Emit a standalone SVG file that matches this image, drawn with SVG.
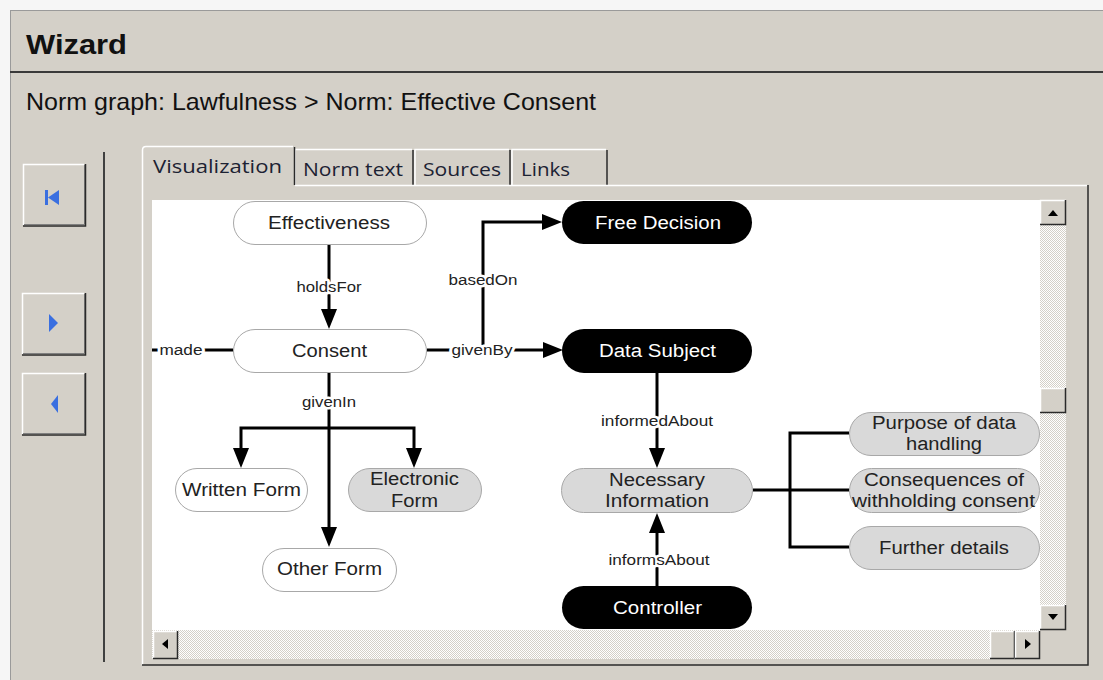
<svg xmlns="http://www.w3.org/2000/svg" width="1103" height="680" viewBox="0 0 1103 680">
  <defs>
    <style>
      .ui { font-family: "Liberation Sans", Arial, sans-serif; fill: #111; }
      .tab { font-family: "Open Sans", "DejaVu Sans", sans-serif; font-size: 19px; fill: #1c2233; }
      .hl { fill: none; stroke: #ffffff; stroke-width: 1.5; }
      .sh { fill: none; stroke: #2a2a2a; stroke-width: 1.5; }
      .sh2 { fill: none; stroke: #808080; stroke-width: 1; }
      .face { fill: #d4d0c8; }
      .pill-w { fill: #ffffff; stroke: #a8a8a8; stroke-width: 1; }
      .pill-g { fill: #d9d9d9; stroke: #a8a8a8; stroke-width: 1; }
      .pill-b { fill: #000000; }
      .node text { font-family: "Liberation Sans", Arial, sans-serif; font-size: 18px; text-anchor: middle; fill: #222; }
      .node.dark text { fill: #ffffff; }
      .edge { fill: none; stroke: #000; stroke-width: 3; }
      .elabel { font-family: "Liberation Sans", Arial, sans-serif; font-size: 14px; text-anchor: middle; fill: #222;
                stroke: #ffffff; stroke-width: 5; stroke-linejoin: round; paint-order: stroke; }
      .icon { fill: #3a6fe0; }
    </style>
    <pattern id="dither" width="2" height="2" patternUnits="userSpaceOnUse">
      <rect width="2" height="2" fill="#ffffff"/>
      <rect width="1" height="1" fill="#d4d0c8"/>
      <rect x="1" y="1" width="1" height="1" fill="#d4d0c8"/>
    </pattern>
    <marker id="arrow" viewBox="0 0 20 16" refX="0" refY="8" markerWidth="20" markerHeight="16"
            markerUnits="userSpaceOnUse" orient="auto">
      <path d="M0,0 L20,8 L0,16 Z" fill="#000"/>
    </marker>
  </defs>

  <!-- window frame -->
  <rect x="0" y="0" width="1103" height="680" fill="#f6f6f6"/>
  <rect x="10.5" y="10.5" width="1100" height="680" fill="#d4d0c8" stroke="#9a9a9a" stroke-width="1"/>
  <line x1="10" y1="72" x2="1103" y2="72" stroke="#3a3a3a" stroke-width="2"/>
  <text class="ui" x="26" y="54" font-size="28" font-weight="bold" textLength="101" lengthAdjust="spacingAndGlyphs">Wizard</text>
  <text class="ui" x="26" y="110" font-size="24" fill="#1a1a1a" textLength="570" lengthAdjust="spacingAndGlyphs">Norm graph: Lawfulness &gt; Norm: Effective Consent</text>

  <!-- navigation buttons -->
  <g id="btn-first">
    <rect class="face" x="23" y="164" width="62" height="62"/>
    <path class="hl" d="M23.5,225 V164.5 H84"/>
    <path class="sh2" d="M24,224.5 H84.5 V165"/>
    <path class="sh" d="M23,226 H85.5 V164"/>
    <rect class="icon" x="45" y="190" width="3" height="15"/>
    <path class="icon" d="M48,197.5 L59,190 L59,205 Z"/>
  </g>
  <g id="btn-next">
    <rect class="face" x="22" y="293" width="63" height="62"/>
    <path class="hl" d="M22.5,354 V293.5 H84"/>
    <path class="sh2" d="M23,353.5 H84.5 V294"/>
    <path class="sh" d="M22,355 H85.5 V293"/>
    <path class="icon" d="M58,323 L49,314 L49,332 Z"/>
  </g>
  <g id="btn-prev">
    <rect class="face" x="22" y="373" width="63" height="62"/>
    <path class="hl" d="M22.5,434 V373.5 H84"/>
    <path class="sh2" d="M23,433.5 H84.5 V374"/>
    <path class="sh" d="M22,435 H85.5 V373"/>
    <path class="icon" d="M51,404 L58,395 L58,413 Z"/>
  </g>
  <line x1="104" y1="152" x2="104" y2="662" stroke="#404040" stroke-width="2"/>

  <!-- tabs -->
  <g id="tab-norm-text">
    <path class="hl" d="M295,185 V149.5 H412"/>
    <path class="sh" d="M413,150 V185"/>
    <text class="tab" x="303" y="176" textLength="100" lengthAdjust="spacingAndGlyphs">Norm text</text>
  </g>
  <g id="tab-sources">
    <path class="hl" d="M415,185 V149.5 H509"/>
    <path class="sh" d="M510,150 V185"/>
    <text class="tab" x="423" y="176" textLength="78" lengthAdjust="spacingAndGlyphs">Sources</text>
  </g>
  <g id="tab-links">
    <path class="hl" d="M512,185 V149.5 H606"/>
    <path class="sh" d="M607,150 V185"/>
    <text class="tab" x="521" y="176" textLength="49" lengthAdjust="spacingAndGlyphs">Links</text>
  </g>

  <!-- tab panel -->
  <g id="panel">
    <path class="hl" d="M142.5,665 V150 Q142.5,146.5 146,146.5 H293"/>
    <path class="sh" d="M294.5,147 V185"/>
    <path class="hl" d="M295,185.5 H1087"/>
    <path class="sh" d="M1088,185 V665 H142"/>
    <text class="tab" x="153" y="173" textLength="129" lengthAdjust="spacingAndGlyphs">Visualization</text>
    <rect x="152" y="200" width="888" height="430" fill="#ffffff"/>
  </g>

  <!-- scrollbars -->
  <g id="scroll-v">
    <rect x="1040" y="200" width="26" height="430" fill="url(#dither)"/>
    <rect class="face" x="1040" y="200" width="26" height="25"/>
    <path class="hl" d="M1040.5,225 V200.5 H1066"/>
    <path class="sh" d="M1040,224.5 H1065.5 V200"/>
    <path d="M1048,216 H1058 L1053,210 Z" fill="#000"/>
    <rect class="face" x="1040" y="388" width="26" height="25"/>
    <path class="hl" d="M1040.5,413 V388.5 H1066"/>
    <path class="sh" d="M1040,412.5 H1065.5 V388"/>
    <rect class="face" x="1040" y="605" width="26" height="25"/>
    <path class="hl" d="M1040.5,630 V605.5 H1066"/>
    <path class="sh" d="M1040,629.5 H1065.5 V605"/>
    <path d="M1048,614 H1058 L1053,620 Z" fill="#000"/>
  </g>
  <g id="scroll-h">
    <rect x="152" y="630" width="888" height="29" fill="url(#dither)"/>
    <rect class="face" x="153" y="631" width="25" height="28"/>
    <path class="hl" d="M153.5,659 V631.5 H178"/>
    <path class="sh" d="M153,658.5 H177.5 V631"/>
    <path d="M168,639 V649 L162,644 Z" fill="#000"/>
    <rect class="face" x="990" y="631" width="25" height="28"/>
    <path class="hl" d="M990.5,659 V631.5 H1015"/>
    <path class="sh" d="M990,658.5 H1014.5 V631"/>
    <rect class="face" x="1015" y="631" width="25" height="28"/>
    <path class="hl" d="M1015.5,659 V631.5 H1040"/>
    <path class="sh" d="M1015,658.5 H1039.5 V631"/>
    <path d="M1025,639 V649 L1031,644 Z" fill="#000"/>
  </g>

  <!-- connectors -->
  <g id="connectors">
    <path class="edge" d="M329,245 V309" marker-end="url(#arrow)"/>
    <path class="edge" d="M152,350 H233"/>
    <path class="edge" d="M427,350 H543" marker-end="url(#arrow)"/>
    <path class="edge" d="M483,350 V222 H542" marker-end="url(#arrow)"/>
    <path class="edge" d="M329,373 V527" marker-end="url(#arrow)"/>
    <path class="edge" d="M329,428 H241 V448" marker-end="url(#arrow)"/>
    <path class="edge" d="M329,428 H414 V448" marker-end="url(#arrow)"/>
    <path class="edge" d="M657,373 V448" marker-end="url(#arrow)"/>
    <path class="edge" d="M657,586 V533" marker-end="url(#arrow)"/>
    <path class="edge" d="M753,490 H849"/>
    <path class="edge" d="M849,433 H790 V547 H849"/>

    <text class="elabel" x="329" y="292" textLength="65" lengthAdjust="spacingAndGlyphs">holdsFor</text>
    <text class="elabel" x="483" y="285" textLength="69" lengthAdjust="spacingAndGlyphs">basedOn</text>
    <text class="elabel" x="482" y="355" textLength="61" lengthAdjust="spacingAndGlyphs">givenBy</text>
    <text class="elabel" x="181" y="355" textLength="43" lengthAdjust="spacingAndGlyphs">made</text>
    <text class="elabel" x="329" y="407" textLength="54" lengthAdjust="spacingAndGlyphs">givenIn</text>
    <text class="elabel" x="657" y="426" textLength="112" lengthAdjust="spacingAndGlyphs">informedAbout</text>
    <text class="elabel" x="659" y="565" textLength="101" lengthAdjust="spacingAndGlyphs">informsAbout</text>
  </g>

  <!-- nodes -->
  <g id="node-effectiveness" class="node">
    <rect class="pill-w" x="233.5" y="201.5" width="193" height="43" rx="21.5"/>
    <text x="329" y="228.5" textLength="122" lengthAdjust="spacingAndGlyphs">Effectiveness</text>
  </g>
  <g id="node-consent" class="node">
    <rect class="pill-w" x="233.5" y="329.5" width="193" height="43" rx="21.5"/>
    <text x="329.5" y="357" textLength="75" lengthAdjust="spacingAndGlyphs">Consent</text>
  </g>
  <g id="node-free-decision" class="node dark">
    <rect class="pill-b" x="562" y="201" width="190" height="43" rx="21.5"/>
    <text x="658" y="228.5" textLength="126" lengthAdjust="spacingAndGlyphs">Free Decision</text>
  </g>
  <g id="node-data-subject" class="node dark">
    <rect class="pill-b" x="562" y="329" width="190" height="44" rx="22"/>
    <text x="657.5" y="357" textLength="117" lengthAdjust="spacingAndGlyphs">Data Subject</text>
  </g>
  <g id="node-necessary-information" class="node">
    <rect class="pill-g" x="561.5" y="468.5" width="191" height="44" rx="22"/>
    <text x="657" y="485.5" textLength="96" lengthAdjust="spacingAndGlyphs">Necessary</text>
    <text x="657" y="506.5" textLength="104" lengthAdjust="spacingAndGlyphs">Information</text>
  </g>
  <g id="node-controller" class="node dark">
    <rect class="pill-b" x="562" y="586" width="190" height="43" rx="21.5"/>
    <text x="657.5" y="613.5" textLength="89" lengthAdjust="spacingAndGlyphs">Controller</text>
  </g>
  <g id="node-written-form" class="node">
    <rect class="pill-w" x="175.5" y="468.5" width="132" height="43" rx="21.5"/>
    <text x="241.5" y="495.5" textLength="119" lengthAdjust="spacingAndGlyphs">Written Form</text>
  </g>
  <g id="node-electronic-form" class="node">
    <rect class="pill-g" x="348.5" y="468.5" width="133" height="43" rx="21.5"/>
    <text x="414.5" y="484.5" textLength="89" lengthAdjust="spacingAndGlyphs">Electronic</text>
    <text x="414.5" y="506.5" textLength="47" lengthAdjust="spacingAndGlyphs">Form</text>
  </g>
  <g id="node-other-form" class="node">
    <rect class="pill-w" x="262.5" y="548.5" width="134" height="43" rx="21.5"/>
    <text x="329.5" y="574.5" textLength="105" lengthAdjust="spacingAndGlyphs">Other Form</text>
  </g>
  <g id="node-purpose" class="node">
    <rect class="pill-g" x="849.5" y="412.5" width="190" height="43" rx="21.5"/>
    <text x="944" y="428.5" textLength="144" lengthAdjust="spacingAndGlyphs">Purpose of data</text>
    <text x="944" y="449.5" textLength="76" lengthAdjust="spacingAndGlyphs">handling</text>
  </g>
  <g id="node-consequences" class="node">
    <rect class="pill-g" x="849.5" y="468.5" width="190" height="44" rx="22"/>
    <text x="944" y="485.5" textLength="160" lengthAdjust="spacingAndGlyphs">Consequences of</text>
    <text x="943.5" y="506.5" textLength="183" lengthAdjust="spacingAndGlyphs">withholding consent</text>
  </g>
  <g id="node-further-details" class="node">
    <rect class="pill-g" x="849.5" y="526.5" width="190" height="43" rx="21.5"/>
    <text x="944" y="553.5" textLength="130" lengthAdjust="spacingAndGlyphs">Further details</text>
  </g>
</svg>
